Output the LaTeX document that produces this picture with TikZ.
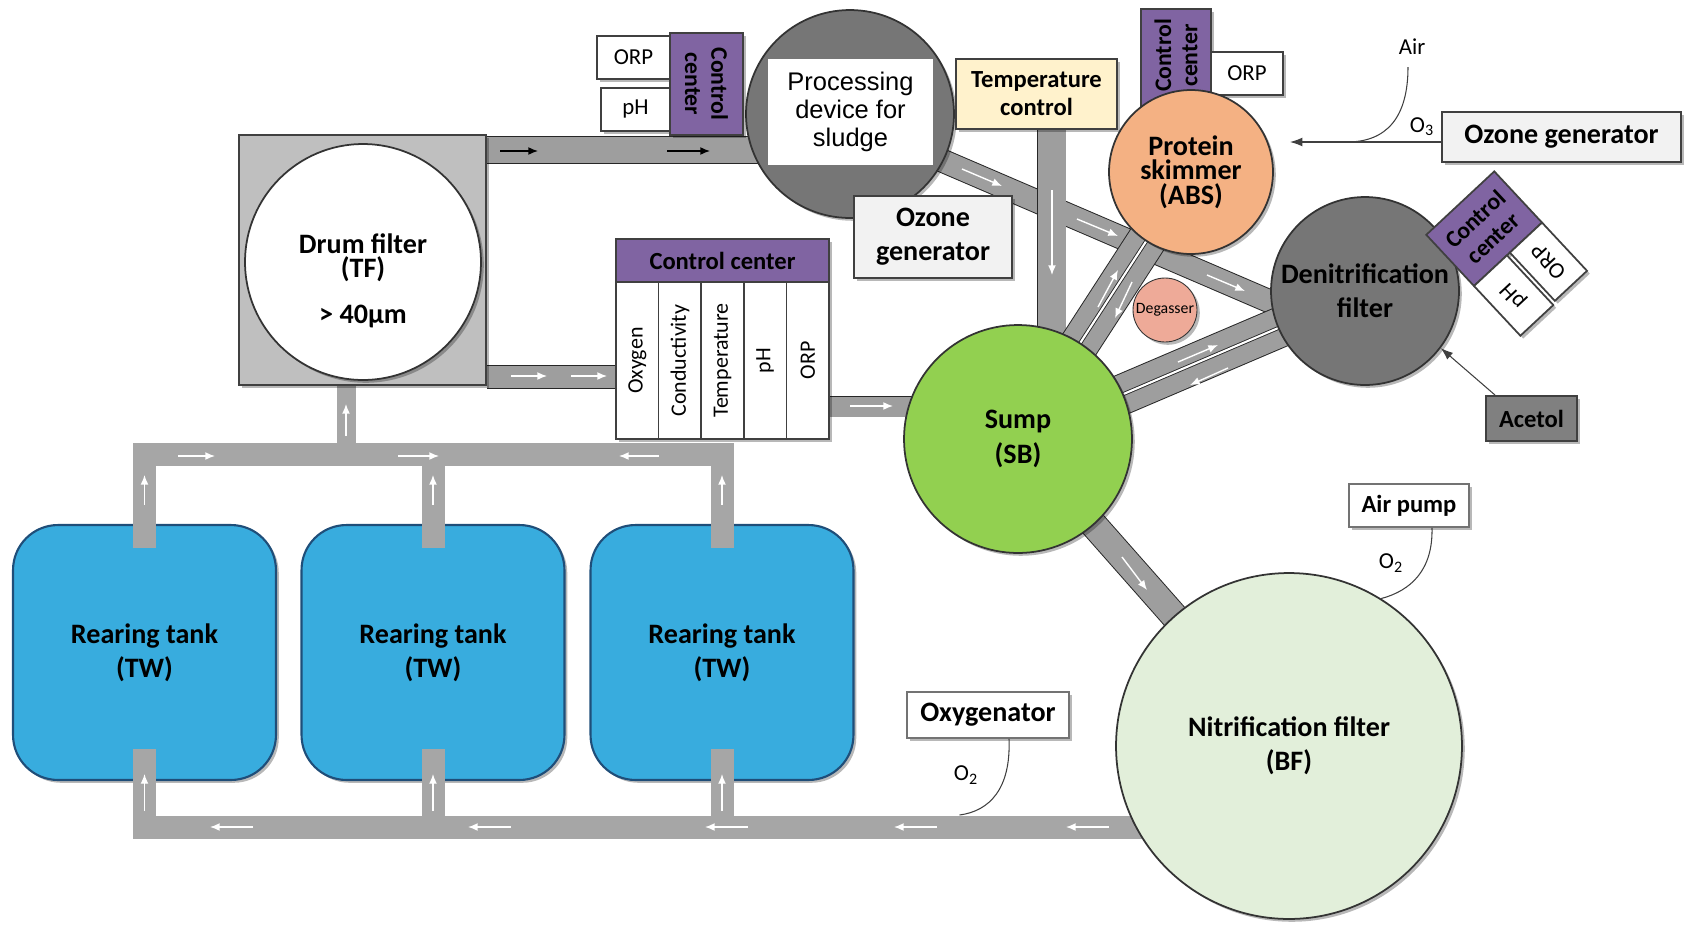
\documentclass[tikz,border=0pt]{standalone}
\usepackage{fontspec}
\setmainfont{Carlito}
\newfontfamily\arialfont{Liberation Sans}
\usetikzlibrary{calc}
\usetikzlibrary{arrows.meta}
\usetikzlibrary{shadows}
\definecolor{tubegray}{RGB}{158,158,158}
\definecolor{retgray}{RGB}{166,166,166}
\definecolor{drumgray}{RGB}{191,191,191}
\definecolor{darkunit}{RGB}{118,118,118}
\definecolor{ccpurple}{RGB}{128,100,162}
\definecolor{tempyellow}{RGB}{255,242,204}
\definecolor{ozgray}{RGB}{242,242,242}
\definecolor{skimorange}{RGB}{244,177,131}
\definecolor{degaspink}{RGB}{238,170,152}
\definecolor{sumpgreen}{RGB}{146,208,80}
\definecolor{nitrgreen}{RGB}{226,239,218}
\definecolor{tankblue}{RGB}{56,172,222}
\definecolor{tankedge}{RGB}{31,78,121}
\definecolor{acetolgray}{RGB}{128,128,128}
\pgfdeclarelayer{tanklayer}
\pgfdeclarelayer{pipelayer}
\pgfsetlayers{tanklayer,pipelayer,main}

\begin{document}
\begin{tikzpicture}[x=0.02cm,y=-0.02cm,
	tube/.style={draw=black!85,line width=0.55pt,double=tubegray,double distance=#1},
	divider/.style={draw=black!85,line width=0.5pt,double=white,double distance=1.2pt},
	rtube/.style={draw=retgray,line width=#1},
	warr/.style={white,line width=0.8pt,-{Latex[length=5.5pt,width=4.5pt]}},
	barr/.style={black,line width=0.8pt,-{Latex[length=5.5pt,width=4.5pt]}},
	thinline/.style={draw=black!75,line width=0.6pt},
	softshadow/.style={drop shadow={shadow xshift=1.6pt,shadow yshift=-1.6pt,opacity=0.28,fill=black}},
	box/.style={draw=black!75,line width=1pt,inner sep=0pt,softshadow},
	unitcirc/.style={circle,draw=black!80,line width=1pt,inner sep=0pt,softshadow},
	lblbig/.style={font=\fontsize{16}{19.5}\selectfont\bfseries,align=center},
	lblmid/.style={font=\fontsize{14}{16}\selectfont\bfseries,align=center},
	lblsmall/.style={font=\fontsize{13}{15}\selectfont,align=center},
	ccfont/.style={font=\fontsize{13.5}{15}\selectfont\bfseries,align=center},
	tank/.style={box,draw=tankedge,line width=1.2pt,fill=tankblue,rounded corners=0.9cm,
		minimum width=5.26cm,minimum height=5.1cm,lblbig}]
	\useasboundingbox (0,0) rectangle (1688,924);

	% rearing tanks
	\begin{pgfonlayer}{tanklayer}
	\node[tank] (tank1) at (144.5,652.5) {Rearing tank\\(TW)};
	\node[tank] (tank2) at (433,652.5) {Rearing tank\\(TW)};
	\node[tank] (tank3) at (722,652.5) {Rearing tank\\(TW)};
	\end{pgfonlayer}

	% drum filter
	\node[box,fill=drumgray,minimum width=4.94cm,minimum height=5cm] (drum) at (362.5,260) {};
	\node[unitcirc,fill=white,minimum size=4.72cm] (drumc) at (363,262) {};
	\node[lblbig,font=\fontsize{16}{13.5}\selectfont\bfseries] (drumtxt) at (363,281) {Drum filter\\(TF)\\[13pt]> 40µm};

	% sludge unit
	\node[unitcirc,fill=darkunit,minimum size=4.16cm] (proc) at (850,114) {};
	\node[fill=white,inner sep=0pt,minimum width=3.3cm,minimum height=2.12cm,align=center,
		font=\arialfont\fontsize{14.5}{15.9}\selectfont] (proctxt) at (850.5,112) {Processing\\device for\\sludge};
	\node[box,fill=white,minimum width=1.46cm,minimum height=0.86cm,lblsmall] (orp1) at (633.5,57.5) {ORP};
	\node[box,fill=white,minimum width=1.38cm,minimum height=0.86cm,lblsmall] (ph1) at (635.5,109.5) {pH};
	\node[box,fill=ccpurple,rotate=-90,minimum width=2.04cm,minimum height=1.46cm,ccfont] (cc1) at (706.5,84) {Control\\center};

	\node[box,fill=tempyellow,minimum width=3.22cm,minimum height=1.4cm,lblmid] (temp) at (1036.5,94) {Temperature\\control};
	\node[box,fill=ozgray,minimum width=3.16cm,minimum height=1.64cm,lblbig] (ozone1) at (933,237) {Ozone\\generator};

	% skimmer
	\node[box,fill=ccpurple,rotate=90,minimum width=2.06cm,minimum height=1.4cm,ccfont] (cc2) at (1176,60.5) {\hspace*{0.2cm}Control\\\hspace*{0.2cm}center};
	\node[box,fill=white,minimum width=1.44cm,minimum height=0.86cm,lblsmall] (orp2) at (1247,73.5) {ORP};
	\node[unitcirc,fill=skimorange,minimum size=3.28cm,lblbig,font=\fontsize{16}{13.9}\selectfont\bfseries] (skim) at (1191,172) {Protein\\skimmer\\(ABS)};
	\node[box,fill=ozgray,minimum width=4.78cm,minimum height=1cm,lblbig] (ozone2) at (1561.5,137) {Ozone generator};
	\node[lblsmall] (air) at (1412,47) {Air};
	\node[lblsmall] (o3) at (1422,127) {O\textsubscript{3}};

	% sensors
	\node[box,fill=ccpurple,minimum width=4.26cm,minimum height=0.86cm,lblmid] (cch) at (722.5,260.5) {Control center};
	\foreach \lab [count=\n] in {Oxygen,Conductivity,Temperature,pH,ORP}
		\node[box,fill=white,rotate=90,minimum width=3.14cm,minimum height=0.852cm,lblsmall,
			font=\fontsize{12.5}{14}\selectfont] (sens\n) at ({594.7+42.6*\n},360.5) {\lab};

	\node[unitcirc,fill=sumpgreen,minimum size=4.56cm,lblbig] (sump) at (1018,439) {Sump\\(SB)};
	\node[unitcirc,fill=darkunit,minimum size=3.76cm,lblbig] (denit) at (1365,291) {Denitrification\\filter};
	\node[unitcirc,fill=degaspink,minimum size=1.28cm,line width=0.5pt,font=\fontsize{9}{10}\selectfont] (degas) at (1165,310) {Degasser};
	\begin{scope}[shift={(1474,286)},rotate=43,transform shape]
		\node[box,fill=ccpurple,minimum width=1.86cm,minimum height=1.4cm,ccfont] (cc3) at (46.5,-35) {Control\\center};
		\node[box,fill=white,rotate=90,minimum width=1.36cm,minimum height=0.9cm,lblsmall] (ph3) at (22.5,34) {pH};
		\node[box,fill=white,rotate=90,minimum width=1.32cm,minimum height=0.88cm,lblsmall] (orp3) at (71,33) {ORP};
	\end{scope}
	\node[box,fill=acetolgray,minimum width=1.82cm,minimum height=0.9cm,lblmid] (acetol) at (1531.5,418.5) {Acetol};

	\node[unitcirc,fill=nitrgreen,minimum size=6.92cm,lblbig] (nitr) at (1289,746) {Nitrification filter\\(BF)};
	\node[box,draw=black!55,fill=white,minimum width=3.24cm,minimum height=0.92cm,lblbig] (oxy) at (988,715) {Oxygenator};
	\node[lblsmall] (o2a) at (966,775) {O\textsubscript{2}};
	\node[box,draw=black!55,fill=white,minimum width=2.4cm,minimum height=0.86cm,lblmid] (airp) at (1409,505.5) {Air pump};
	\node[lblsmall] (o2b) at (1391,563) {O\textsubscript{2}};

	\coordinate (tfa) at ($(drum.north east)+(0,16)$);
	\coordinate (tfb) at ($(drum.south east)+(0,-9)$);
	\coordinate (tfin) at ($(drum.south)+(-16.5,0)$);
	\coordinate (ccout) at ($(cch.east)+(0,146)$);
	\coordinate (tcout) at ($(temp.south)+(15,0)$);
	\coordinate (retl) at ($(tank1.south)+(0,46)$);
	\coordinate (o3in) at ($(skim.center)+(99,-30)$);
	\coordinate (airjoin) at ($(o3in)+(57,0)$);
	\coordinate (oxyjoin) at ($(retl)+(815,-12)$);

	\begin{pgfonlayer}{pipelayer}
	% return loop
	\draw[rtube=0.46cm] ($(tank1.north)+(0,24)$) |- ($(tank3.north)+(0,-69)$) -- ($(tank3.north)+(0,24)$);
	\draw[rtube=0.46cm] ($(tank2.north)+(0,24)$) -- ++(0,-93);
	\draw[rtube=0.38cm] (tfin) -- ++(0,75);
	\draw[rtube=0.46cm] ($(tank1.south)+(0,-32)$) -- (retl) -- (retl -| nitr.center);
	\draw[rtube=0.46cm] ($(tank2.south)+(0,-32)$) -- ++(0,80);
	\draw[rtube=0.46cm] ($(tank3.south)+(0,-32)$) -- ++(0,80);
	% treatment pipes
	\draw[tube=0.52cm] (tfa) -- (tfa -| proc.center);
	\draw[tube=0.44cm] (tfb) -- (tfb -| cch.west);
	\draw[tube=0.4cm] (ccout) -- (ccout -| sump.center);
	\draw[tube=0.44cm] ($(proc.center)+(0,7)$) -- ($(denit.center)+(-45,32)$);
	\draw[tube=0.56cm] (tcout) -- (tcout |- sump.center);
	\draw[tube=0.76cm] (skim.center) -- (sump.center);
	\draw[divider] (skim.center) -- (sump.center);
	\draw[tube=0.78cm] (sump.center) -- (denit.center);
	\draw[divider] (sump.center) -- (denit.center);
	\draw[tube=0.52cm] (sump.center) -- (nitr.center);
	% flow marks
	\draw[barr] (500,151) -- ++(38,0);
	\draw[barr] (667,151) -- ++(43,0);
	\foreach \x in {511,571}
		\draw[warr] (\x,376) -- ++(36,0);
	\draw[warr] (850,406) -- ++(43,0);
	\draw[warr] (1052,190) -- ++(0,85);
	\draw[warr] (962,169) -- (1002,186);
	\draw[warr] (1077,219) -- (1118,236);
	\draw[warr] (1207,275) -- (1245,291);
	\draw[warr] (1098,307) -- (1118,270);
	\draw[warr] (1132,282) -- (1115,318);
	\draw[warr] (1178,362) -- (1218,345);
	\draw[warr] (1228,368) -- (1190,385);
	\draw[warr] (1122,557) -- (1147,590);
	\draw[warr] (178,456) -- ++(37,0);
	\draw[warr] (398,456) -- ++(41,0);
	\draw[warr] (659,456) -- ++(-40,0);
	\draw[warr] (346,436) -- ++(0,-32);
	\foreach \tk in {tank1,tank2,tank3} {
		\draw[warr] ($(\tk.north)+(0,-19)$) -- ++(0,-30);
		\draw[warr] ($(\tk.south)+(0,30)$) -- ++(0,-37);
	}
	\foreach \x in {253,511,748,937,1109}
		\draw[warr] (\x,827) -- ++(-43,0);
	\end{pgfonlayer}

	% gas and dosing lines
	\draw[thinline] ($(air.south)+(-4,6)$) .. controls +(0,50) and +(40,0) .. (airjoin);
	\draw[thinline,-{Latex[length=7pt,width=5pt]}] (ozone2.west |- o3in) -- (o3in);
	\draw[thinline,-{Latex[length=7pt,width=5pt]}] ($(acetol.north west)+(10,0)$) -- (denit.-37);
	\draw[thinline] ($(oxy.south)+(21,0)$) .. controls +(2,50) and +(30,-4) .. (oxyjoin);
	\draw[thinline] ($(airp.south)+(23,0)$) .. controls +(1,42) and +(30,-8) .. (nitr.58);
\end{tikzpicture}
\end{document}
